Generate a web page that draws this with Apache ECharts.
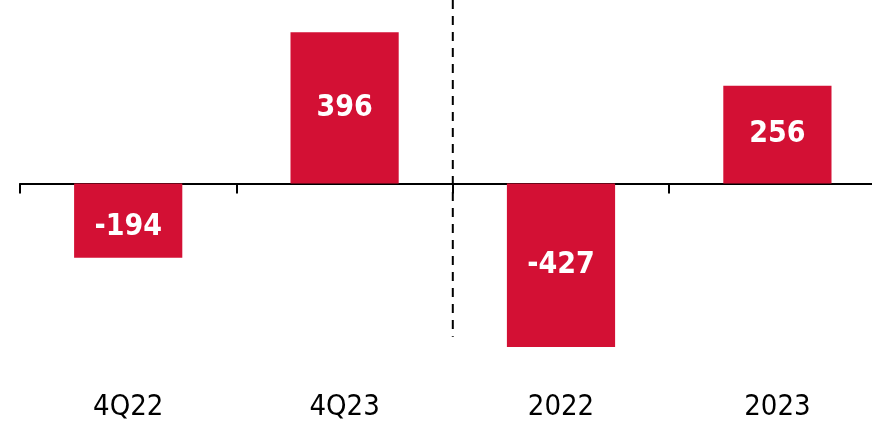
<!DOCTYPE html>
<html><head><meta charset="utf-8">
<script src="https://cdn.jsdelivr.net/npm/echarts@6/dist/echarts.min.js"></script>
<style>html,body{margin:0;padding:0;background:#fff}#c{width:872px;height:422px}</style>
</head><body><div id="c"></div>
<script>
const categories = ['4Q22', '4Q23', '2022', '2023'];
const values = [-194, 396, -427, 256];
const dividerX = [2, 2];
const dividerY = [480, -400];

const chart = echarts.init(document.getElementById('c'));
chart.setOption({
  animation: false,
  grid: { left: 20, top: 0, width: 865.6, height: 374.9, outerBoundsMode: 'none' },
  xAxis: [
    { type: 'category', data: categories, position: 'bottom',
      axisLine: { onZero: true, lineStyle: { color: '#000', width: 2 } },
      axisTick: { show: true, length: 10, lineStyle: { color: '#000', width: 2 } },
      axisLabel: { show: false }, splitLine: { show: false } },
    { type: 'category', data: categories, position: 'bottom',
      axisLine: { show: false, onZero: false }, axisTick: { show: false },
      axisLabel: { show: true, margin: 18, color: '#000', fontSize: 29, fontFamily: 'DejaVu Sans Condensed' } },
    { type: 'value', min: 0, max: 4, show: false }
  ],
  yAxis: { type: 'value', min: -500, max: 480, show: false },
  series: [
    { type: 'bar', xAxisIndex: 0, barWidth: '50%',
      data: values.map((v, i) => i === 0 ? { value: v, label: { offset: [0, 6] } } : v),
      itemStyle: { color: '#D31034' },
      label: { show: true, position: 'inside', color: '#fff', fontSize: 30,
               fontWeight: 'bold', fontFamily: 'DejaVu Sans Condensed' } },
    { type: 'line', xAxisIndex: 2, data: dividerX.map((x, i) => [x, dividerY[i]]),
      symbol: 'none', silent: true,
      lineStyle: { color: '#000', width: 2, type: [9, 7] } }
  ]
});
</script></body></html>
